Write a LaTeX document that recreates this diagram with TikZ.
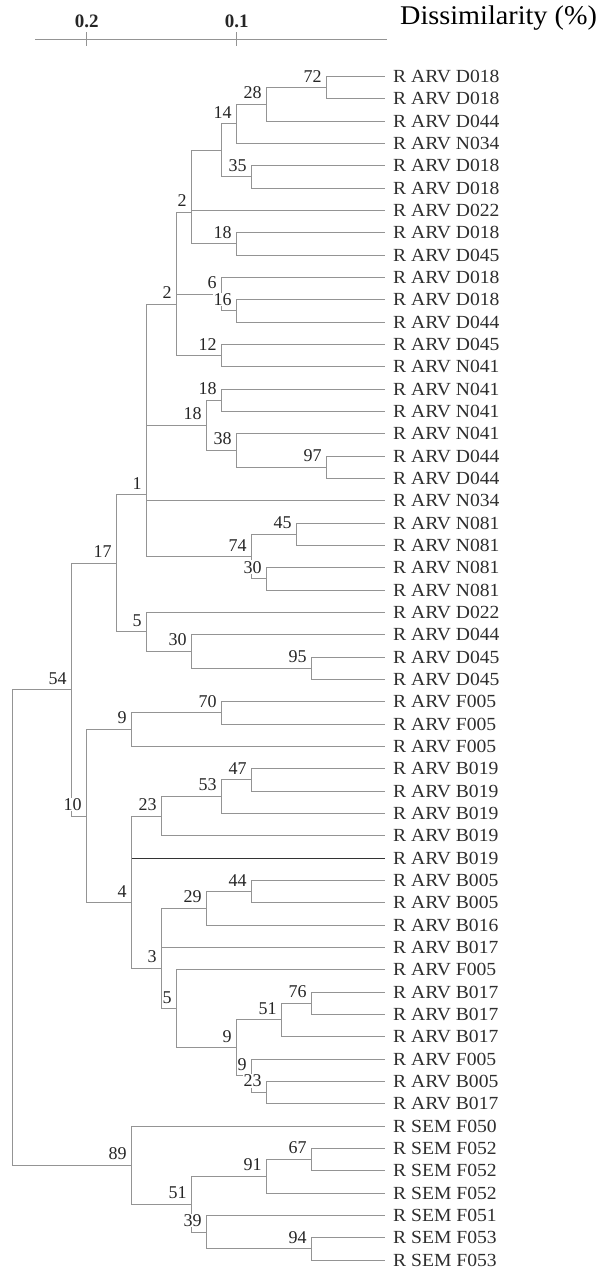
\documentclass[tikz,border=0pt]{standalone}
\usepackage{fontspec}
\setmainfont{Liberation Serif}
\usepackage{graphicx}
\usetikzlibrary{calc}
\newcommand\dendnode[4]{\coordinate (#1m) at ($(#3)!.5!(#4)$);\coordinate (#1) at (#1m -| #2,0);}
\newcommand\leaftext[1]{\scalebox{1.06}[1]{#1}}
\begin{document}
\begin{tikzpicture}[x=1pt,y=-1pt,
  branch/.style={draw=black!42, line width=1pt},
  darkbranch/.style={draw=black!80, line width=1pt},
  bs/.style={anchor=south east, inner sep=0.8pt, fill=white, text=black!85, font=\fontsize{18}{18}\selectfont, xshift=-4pt, yshift=4.5pt},
  leaflab/.style={anchor=west, inner sep=0pt, text=black!82, font=\fontsize{18.5}{18.5}\selectfont},
  axislab/.style={anchor=base, inner sep=0pt, text=black!85, font=\bfseries\fontsize{19}{19}\selectfont}]
\useasboundingbox (0,0) rectangle (599,1268);
% axis
\coordinate (ax0) at (35,39.3);
\coordinate (ax1) at (386.7,39.3);
\coordinate (tk2) at (86.7,39.3);
\coordinate (tk1) at (236.7,39.3);
\draw[branch] (ax0) -- (ax1);
\draw[branch] ($(tk2)+(0,-7)$) -- ($(tk2)+(0,7)$);
\draw[branch] ($(tk1)+(0,-7)$) -- ($(tk1)+(0,7)$);
\node[axislab] (a2) at (86.7,28) {0.2};
\node[axislab] (a1) at (236.7,28) {0.1};
\node[anchor=base west, inner sep=0pt, text=black, font=\fontsize{27}{27}\selectfont] (title) at (400,25) {\scalebox{1.045}[1]{Dissimilarity (\%)}};
% leaves
\foreach \i in {1,...,54}{\coordinate (l\i) at (384.5,{76.5+(\i-1)*22.33});}
\foreach \i/\t in {1/R ARV D018,2/R ARV D018,3/R ARV D044,4/R ARV N034,5/R ARV D018,6/R ARV D018,7/R ARV D022,8/R ARV D018,9/R ARV D045,10/R ARV D018,11/R ARV D018,12/R ARV D044,13/R ARV D045,14/R ARV N041,15/R ARV N041,16/R ARV N041,17/R ARV N041,18/R ARV D044,19/R ARV D044,20/R ARV N034,21/R ARV N081,22/R ARV N081,23/R ARV N081,24/R ARV N081,25/R ARV D022,26/R ARV D044,27/R ARV D045,28/R ARV D045,29/R ARV F005,30/R ARV F005,31/R ARV F005,32/R ARV B019,33/R ARV B019,34/R ARV B019,35/R ARV B019,36/R ARV B019,37/R ARV B005,38/R ARV B005,39/R ARV B016,40/R ARV B017,41/R ARV F005,42/R ARV B017,43/R ARV B017,44/R ARV B017,45/R ARV F005,46/R ARV B005,47/R ARV B017,48/R SEM F050,49/R SEM F052,50/R SEM F052,51/R SEM F052,52/R SEM F051,53/R SEM F053,54/R SEM F053}{\node[leaflab] (t\i) at ($(l\i)+(8.5,0)$) {\leaftext{\t}};}
% internal nodes
\dendnode{n72}{326.7}{l1}{l2}
\dendnode{n28}{266.7}{n72}{l3}
\dendnode{n14}{236.7}{n28}{l4}
\dendnode{n35}{251.7}{l5}{l6}
\dendnode{nA}{221.7}{n14}{n35}
\dendnode{n18a}{236.7}{l8}{l9}
\dendnode{n2ua}{191.7}{nA}{l7}
\dendnode{n2u}{191.7}{n2ua}{n18a}
\dendnode{n16}{236.7}{l11}{l12}
\dendnode{n6}{221.7}{l10}{n16}
\dendnode{n12}{221.7}{l13}{l14}
\dendnode{Pa}{176.7}{n2u}{n6}
\dendnode{P2}{176.7}{Pa}{n12}
\dendnode{n18b}{221.7}{l15}{l16}
\dendnode{n97}{326.7}{l18}{l19}
\dendnode{n38}{236.7}{l17}{n97}
\dendnode{n18c}{206.7}{n18b}{n38}
\dendnode{n45}{296.7}{l21}{l22}
\dendnode{n30}{266.7}{l23}{l24}
\dendnode{n74}{251.7}{n45}{n30}
\dendnode{n1a}{146.7}{P2}{n18c}
\dendnode{n1b}{146.7}{n1a}{l20}
\dendnode{n1}{146.7}{n1b}{n74}
\dendnode{n95}{311.7}{l27}{l28}
\dendnode{n30b}{191.7}{l26}{n95}
\dendnode{n5}{146.7}{l25}{n30b}
\dendnode{n17}{116.7}{n1}{n5}
\dendnode{n70}{221.7}{l29}{l30}
\dendnode{n9}{131.7}{n70}{l31}
\dendnode{n47}{251.7}{l32}{l33}
\dendnode{n53}{221.7}{n47}{l34}
\dendnode{n23}{161.7}{n53}{l35}
\dendnode{n44}{251.7}{l37}{l38}
\dendnode{n29}{206.7}{n44}{l39}
\dendnode{n76}{311.7}{l42}{l43}
\dendnode{n51b}{281.7}{n76}{l44}
\dendnode{n23b}{266.7}{l46}{l47}
\dendnode{n9c}{251.7}{l45}{n23b}
\dendnode{n9b}{236.7}{n51b}{n9c}
\dendnode{n5b}{176.7}{l41}{n9b}
\dendnode{n3a}{161.7}{n29}{l40}
\dendnode{n3}{161.7}{n3a}{n5b}
\dendnode{n4a}{131.7}{n23}{l36}
\dendnode{n4}{131.7}{n4a}{n3}
\dendnode{n10}{86.7}{n9}{n4}
\dendnode{n54}{71.7}{n17}{n10}
\dendnode{n67}{311.7}{l49}{l50}
\dendnode{n91}{266.7}{n67}{l51}
\dendnode{n94}{311.7}{l53}{l54}
\dendnode{n39}{206.7}{l52}{n94}
\dendnode{n51c}{191.7}{n91}{n39}
\dendnode{n89}{131.7}{l48}{n51c}
\dendnode{root}{12.3}{n54}{n89}
% branches
\draw[branch] (l1) -| (n72) |- (l2);
\draw[branch] (n72) -| (n28) |- (l3);
\draw[branch] (n28) -| (n14) |- (l4);
\draw[branch] (l5) -| (n35) |- (l6);
\draw[branch] (n14) -| (nA) |- (n35);
\draw[branch] (l8) -| (n18a) |- (l9);
\draw[branch] (nA) -| (n2u) |- (n18a);
\draw[branch] (n2u |- l7) -- (l7);
\draw[branch] (l11) -| (n16) |- (l12);
\draw[branch] (l10) -| (n6) |- (n16);
\draw[branch] (l13) -| (n12) |- (l14);
\draw[branch] (n2u) -| (P2) |- (n12);
\draw[branch] (P2 |- n6) -- (n6);
\draw[branch] (l15) -| (n18b) |- (l16);
\draw[branch] (l18) -| (n97) |- (l19);
\draw[branch] (l17) -| (n38) |- (n97);
\draw[branch] (n18b) -| (n18c) |- (n38);
\draw[branch] (l21) -| (n45) |- (l22);
\draw[branch] (l23) -| (n30) |- (l24);
\draw[branch] (n45) -| (n74) |- (n30);
\draw[branch] (P2) -| (n1) |- (n74);
\draw[branch] (n1 |- n18c) -- (n18c);
\draw[branch] (n1 |- l20) -- (l20);
\draw[branch] (l27) -| (n95) |- (l28);
\draw[branch] (l26) -| (n30b) |- (n95);
\draw[branch] (l25) -| (n5) |- (n30b);
\draw[branch] (n1) -| (n17) |- (n5);
\draw[branch] (l29) -| (n70) |- (l30);
\draw[branch] (n70) -| (n9) |- (l31);
\draw[branch] (l32) -| (n47) |- (l33);
\draw[branch] (n47) -| (n53) |- (l34);
\draw[branch] (n53) -| (n23) |- (l35);
\draw[branch] (l37) -| (n44) |- (l38);
\draw[branch] (n44) -| (n29) |- (l39);
\draw[branch] (l42) -| (n76) |- (l43);
\draw[branch] (n76) -| (n51b) |- (l44);
\draw[branch] (l46) -| (n23b) |- (l47);
\draw[branch] (l45) -| (n9c) |- (n23b);
\draw[branch] (n51b) -| (n9b) |- (n9c);
\draw[branch] (l41) -| (n5b) |- (n9b);
\draw[branch] (n29) -| (n3) |- (n5b);
\draw[branch] (n3 |- l40) -- (l40);
\draw[branch] (n23) -| (n4) |- (n3);
\draw[darkbranch] (n4 |- l36) -- (l36);
\draw[branch] (n9) -| (n10) |- (n4);
\draw[branch] (n17) -| (n54) |- (n10);
\draw[branch] (l49) -| (n67) |- (l50);
\draw[branch] (n67) -| (n91) |- (l51);
\draw[branch] (l53) -| (n94) |- (l54);
\draw[branch] (l52) -| (n39) |- (n94);
\draw[branch] (n91) -| (n51c) |- (n39);
\draw[branch] (l48) -| (n89) |- (n51c);
\draw[branch] (n54) -| (root) |- (n89);
% bootstrap values
\foreach \n/\v in {n72/72,n28/28,n14/14,n35/35,n2u/2,n18a/18,n6/6,n16/16,P2/2,n12/12,n18b/18,n18c/18,n38/38,n97/97,n1/1,n45/45,n74/74,n30/30,n17/17,n5/5,n30b/30,n95/95,n54/54,n70/70,n9/9,n10/10,n47/47,n53/53,n23/23,n4/4,n44/44,n29/29,n3/3,n5b/5,n76/76,n51b/51,n9b/9,n9c/9,n23b/23,n89/89,n67/67,n91/91,n51c/51,n39/39,n94/94}{\node[bs] (b\n) at (\n) {\v};}
\end{tikzpicture}
\end{document}
